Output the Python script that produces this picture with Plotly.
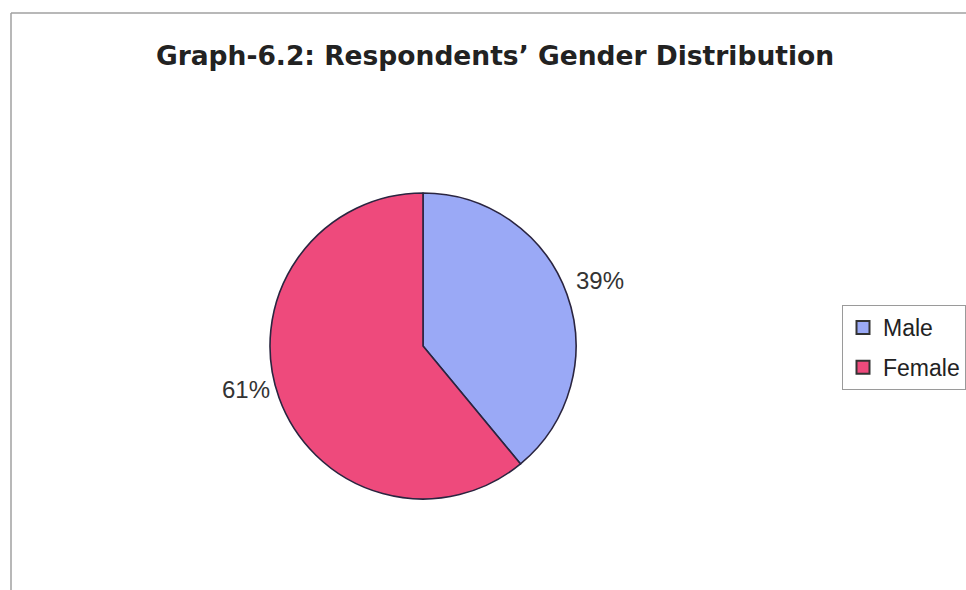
import math
import plotly.graph_objects as go

labels = ["Male", "Female"]
values = [39, 61]
colors = ["#9AA9F6", "#EE4A7C"]
title_text = "Graph-6.2: Respondents’ Gender Distribution"

W, H = 966, 590
cx, cy, r = 423, 346, 153
FONT = "Liberation Sans, Arial"

fig = go.Figure()
fig.add_trace(go.Pie(
    labels=labels, values=values, sort=False, direction="clockwise", rotation=0,
    marker=dict(colors=colors, line=dict(color="#2A2540", width=1.6)),
    textinfo="none", showlegend=False,
    domain=dict(x=[(cx - r) / W, (cx + r) / W], y=[1 - (cy + r) / H, 1 - (cy - r) / H]),
    hoverinfo="label+percent",
))

# legend entries (square swatches) with Excel-like spacing
for lab, col in zip(labels, colors):
    fig.add_trace(go.Scatter(
        x=[None], y=[None], mode="markers", name=lab, legendgroup=lab,
        marker=dict(symbol="square", size=13, color=col, line=dict(color="#333333", width=2)),
    ))

# percentage labels computed from the data
total = sum(values)
annotations = []
cum = 0
for v in values:
    mid = (cum + v / 2) / total * 2 * math.pi
    cum += v
    rr = r + 8
    px = cx + rr * math.sin(mid)
    py = cy - rr * math.cos(mid)
    right = math.sin(mid) >= 0
    annotations.append(dict(
        x=px / W, y=1 - py / H, xref="paper", yref="paper",
        text=f"{round(v / total * 100)}%", showarrow=False,
        xanchor="left" if right else "right", yanchor="middle", yshift=11,
        font=dict(family=FONT, size=24, color="#333333"),
    ))

fig.update_layout(
    width=W, height=H,
    margin=dict(l=0, r=0, t=0, b=0),
    paper_bgcolor="white", plot_bgcolor="white",
    xaxis=dict(visible=False), yaxis=dict(visible=False),
    title=dict(text="<b>" + title_text + "</b>", x=495 / W, xanchor="center",
               y=1 - 56 / H, yanchor="middle",
               font=dict(family="DejaVu Sans", size=26.5, color="#222222")),
    legend=dict(x=842 / W, xanchor="left", y=1 - 305 / H, yanchor="top",
                bordercolor="#9A9A9A", borderwidth=1, bgcolor="white",
                font=dict(family=FONT, size=23, color="#222222"),
                tracegroupgap=7, itemwidth=30),
    annotations=annotations,
    shapes=[
        dict(type="line", xref="paper", yref="paper", x0=11 / W, x1=1, y0=1 - 13 / H, y1=1 - 13 / H,
             line=dict(color="#A0A0A0", width=1.5)),
        dict(type="line", xref="paper", yref="paper", x0=11 / W, x1=11 / W, y0=0, y1=1 - 13 / H,
             line=dict(color="#A0A0A0", width=1.5)),
    ],
)

fig.write_html("out.html")
